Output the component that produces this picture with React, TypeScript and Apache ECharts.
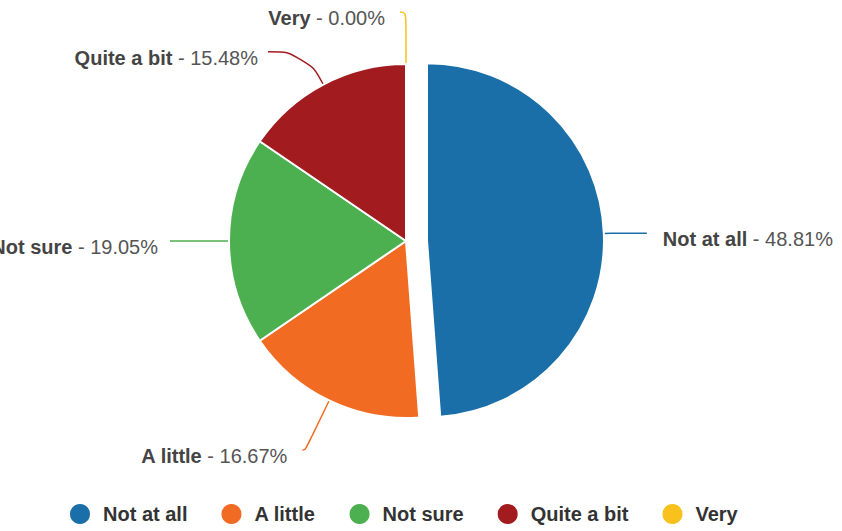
import React, { useEffect, useRef } from "react";
import * as echarts from "echarts";

const categories = ["Not at all", "A little", "Not sure", "Quite a bit", "Very"];
const counts = [41, 14, 16, 13, 0];
const colors = ["#1a6fa8", "#f26b23", "#4caf50", "#a21b1f", "#f8c11c"];
// label line geometry per slice: [length, length2, distance]
const lineGeom = [
  [8, 35, 16],
  [55, 3, 15],
  [10, 49, 12],
  [37, 38, 10],
  [52, 6, 15],
];

const FONT = "'Liberation Sans', Arial, Helvetica, sans-serif";

export default function App() {
  const ref = useRef<HTMLDivElement>(null);
  useEffect(() => {
    document.body.style.margin = "0";
    const chart = echarts.init(ref.current!, null, { renderer: "svg" });
    const total = counts.reduce((a, b) => a + b, 0);
    const data = categories.map((name, i) => ({
      name,
      value: counts[i],
      selected: i === 0,
      itemStyle: { color: colors[i] },
      label: { distanceToLabelLine: lineGeom[i][2] },
      labelLine: {
        length: lineGeom[i][0],
        length2: lineGeom[i][1],
        lineStyle: { color: colors[i], width: 1.5 },
      },
    }));
    chart.setOption({
      animation: false,
      backgroundColor: "#ffffff",
      legend: {
        data: categories,
        bottom: 0,
        left: 63,
        icon: "circle",
        itemWidth: 36,
        itemHeight: 22,
        itemGap: 32,
        textStyle: { fontSize: 20, color: "#333", fontFamily: FONT, fontWeight: "bold" },
      },
      series: [
        {
          type: "pie",
          center: [406, 241],
          radius: 177,
          startAngle: 90,
          clockwise: true,
          selectedMode: "single",
          selectedOffset: 21,
          avoidLabelOverlap: true,
          itemStyle: { borderColor: "#ffffff", borderWidth: 2 },
          emphasis: { disabled: true },
          label: {
            show: true,
            position: "outer",
            overflow: "none",
            fontFamily: FONT,
            fontSize: 20,
            padding: [12, 0, 0, 0],
            formatter: (p: any) =>
              "{b|" + p.name + "}{v| - " + ((p.value / total) * 100).toFixed(2) + "%}",
            rich: {
              b: { fontWeight: "bold", color: "#444", fontSize: 20, fontFamily: FONT },
              v: { color: "#555", fontSize: 20, fontFamily: FONT },
            },
          },
          labelLine: { show: true, smooth: 0.5 },
          data,
        },
      ],
    });
    return () => chart.dispose();
  }, []);
  return (
    <div
      ref={ref}
      style={{ position: "fixed", left: 0, top: 0, width: 842, height: 531 }}
    />
  );
}
